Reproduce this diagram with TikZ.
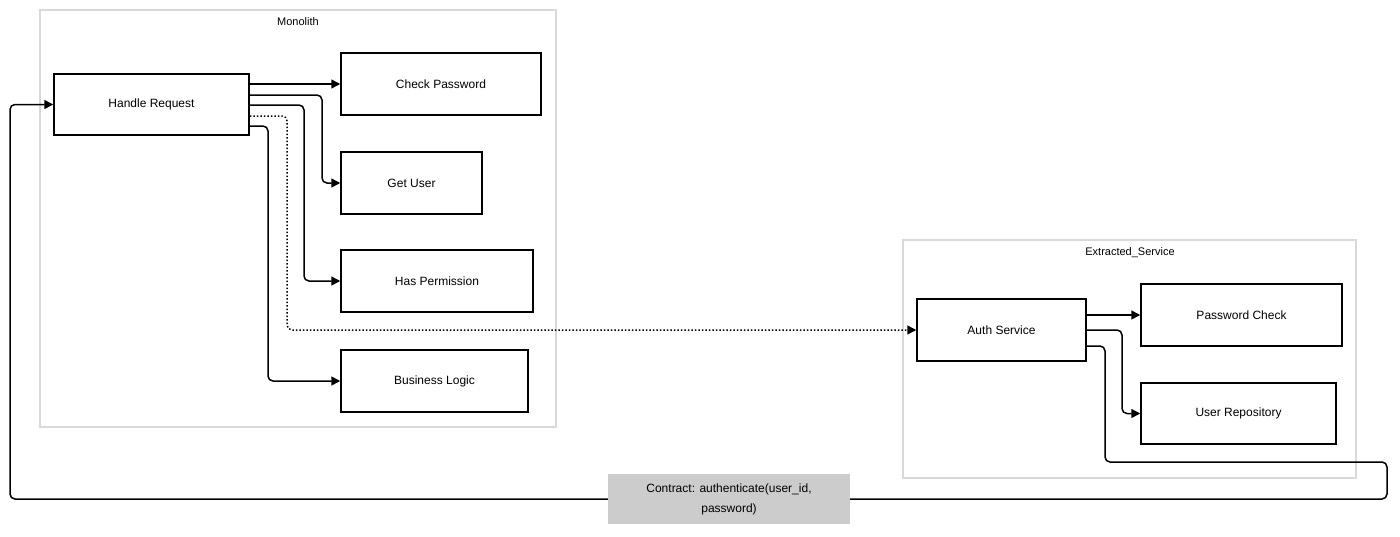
\documentclass[tikz,border=0pt]{standalone}
\usepackage{fontspec}
\setmainfont{Liberation Sans}
\usetikzlibrary{arrows.meta}
\begin{document}
\begin{tikzpicture}[x=1pt,y=-1pt,
  box/.style={draw,line width=1.5pt,inner sep=0pt,font=\fontsize{12}{14}\selectfont},
  clus/.style={draw=black!15,line width=1.5pt},
  conn/.style={line width=1.5pt,rounded corners=5pt,-{Triangle[length=9pt,width=9pt]}},
  lbl/.style={font=\fontsize{11}{13}\selectfont}]
\useasboundingbox (0,0) rectangle (1400,536);
\fill[white] (0,0) rectangle (1400,536);
\draw[clus] (40,10) rectangle (556,427);
\node[lbl] (ml) at (298,22) {Monolith};
\draw[clus] (903,240) rectangle (1356,478);
\node[lbl] (el) at (1130,253) {Extracted\_Service};
\node[box,minimum width=195pt,minimum height=61pt] (hr) at (151.5,104.5) {Handle Request};
\node[box,minimum width=200pt,minimum height=62pt] (cp) at (441,84) {Check Password};
\node[box,minimum width=141pt,minimum height=62pt] (gu) at (411.5,183) {Get User};
\node[box,minimum width=192pt,minimum height=62pt] (hp) at (437,281) {Has Permission};
\node[box,minimum width=187pt,minimum height=62pt] (bl) at (434.5,381) {Business Logic};
\node[box,minimum width=169pt,minimum height=62pt] (as) at (1001.5,330) {Auth Service};
\node[box,minimum width=201pt,minimum height=62pt] (pc) at (1241.5,315) {Password Check};
\node[box,minimum width=195pt,minimum height=61pt] (ur) at (1238.5,413.5) {User Repository};
\coordinate (h1) at (hr.east|-0,84);
\coordinate (h2) at (hr.east|-0,95);
\coordinate (h3) at (hr.east|-0,105);
\coordinate (h4) at (hr.east|-0,116);
\coordinate (h5) at (hr.east|-0,126);
\draw[conn] (h1) -- (cp.west|-h1);
\draw[conn] (h2) -| (322,183) -- (gu.west);
\draw[conn] (h3) -| (304,281) -- (hp.west);
\draw[conn,dotted] (h4) -| (287,330) -- (as.west);
\draw[conn] (h5) -| (268,381) -- (bl.west);
\coordinate (a1) at (as.east|-0,315);
\coordinate (a2) at (as.east|-0,330);
\coordinate (a3) at (as.east|-0,346);
\draw[conn] (a1) -- (pc.west|-a1);
\draw[conn] (a2) -| (1122,413.5) -- (ur.west);
\draw[conn] (a3) -| (1105,462) -| (1387,499) -| (10,104.5) -- (hr.west);
\node[fill=black!20,minimum width=242pt,minimum height=50pt,align=center,inner sep=0pt,font=\fontsize{12}{20}\selectfont] (ct) at (729,499) {Contract: authenticate(user\_id,\\password)};
\end{tikzpicture}
\end{document}
